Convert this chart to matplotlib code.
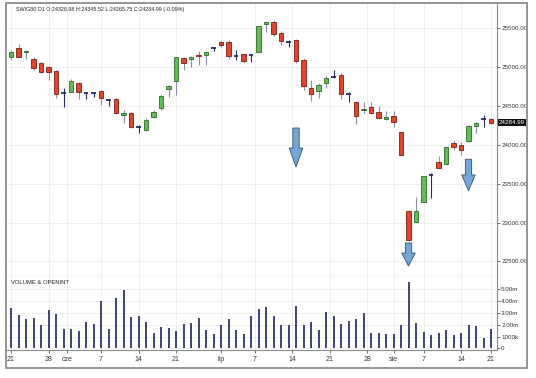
import matplotlib
matplotlib.use('Agg')
import matplotlib.pyplot as plt
from matplotlib.patches import Rectangle, Polygon
from matplotlib.transforms import blended_transform_factory
import numpy as np
import pandas as pd

FONT = ['Liberation Sans Narrow', 'Liberation Sans', 'DejaVu Sans']
plt.rcParams['font.family'] = FONT

# ---------------- data ----------------
holidays = ['2024-05-30', '2024-08-15']
dates = [d for d in pd.bdate_range('2024-05-21', '2024-08-21') if d.strftime('%Y-%m-%d') not in holidays]

opens = [25128, 25252, 25195, 25106, 25059, 25007, 24952, 24665, 24685, 24793,
         24672, 24672, 24694, 24575, 24591, 24385, 24407, 24225, 24192, 24360,
         24472, 24716, 24823, 25115, 25102, 25158, 25158, 25244, 25321, 25321,
         25149, 25171, 25158, 25200, 25553, 25576, 25437, 25329, 25351, 25093,
         24737, 24698, 24801, 24878, 24900, 24652, 24549, 24450, 24482, 24428,
         24334, 24373, 24170, 23154, 23012, 23270, 23607, 23781, 23751, 24019,
         23993, 24051, 24240, 24330, 24328.98]
highs = [25222, 25299, 25222, 25128, 25071, 25020, 24965, 24729, 24845, 24806,
         24685, 24678, 24707, 24579, 24608, 24450, 24428, 24263, 24343, 24450,
         24643, 24772, 25136, 25136, 25145, 25213, 25213, 25264, 25342, 25351,
         25222, 25180, 25167, 25535, 25599, 25608, 25467, 25351, 25364, 25115,
         24836, 24793, 24887, 24965, 24922, 24678, 24557, 24557, 24557, 24505,
         24437, 24441, 24180, 23163, 23334, 23605, 23633, 23854, 23985, 24070,
         24042, 24257, 24290, 24379, 24345.52]
lows = [25093, 25128, 25106, 24965, 24930, 24836, 24600, 24492, 24678, 24591,
        24588, 24613, 24514, 24501, 24398, 24279, 24222, 24150, 24173, 24343,
        24450, 24613, 24643, 24965, 25007, 25029, 25029, 25213, 25264, 25102,
        25093, 25051, 25064, 25195, 25458, 25406, 25286, 25264, 25051, 24707,
        24566, 24600, 24729, 24858, 24591, 24549, 24270, 24407, 24398, 24330,
        24321, 24235, 23858, 22764, 23005, 23262, 23313, 23700, 23740, 23935,
        23871, 24042, 24150, 24231, 24265.75]
closes = [25200, 25136, 25210, 24986, 24943, 24935, 24652, 24665, 24823, 24685,
          24672, 24672, 24600, 24575, 24407, 24415, 24237, 24225, 24321, 24428,
          24630, 24759, 25128, 25059, 25136, 25145, 25200, 25244, 25286, 25149,
          25149, 25084, 25158, 25531, 25578, 25425, 25342, 25329, 25084, 24763,
          24652, 24772, 24858, 24878, 24656, 24652, 24373, 24469, 24415, 24343,
          24364, 24299, 23871, 22777, 23150, 23600, 23607, 23707, 23977, 23977,
          23939, 24244, 24286, 24330, 24284.99]
volumes_m = [3.44, 2.82, 2.48, 2.57, 1.97, 3.27, 2.88, 1.64, 1.61, 1.47,
             2.20, 2.06, 3.98, 1.64, 4.24, 4.94, 2.63, 2.76, 2.20, 1.27,
             1.83, 1.69, 1.44, 2.06, 2.14, 2.59, 1.53, 1.21, 1.97, 2.46,
             1.53, 1.19, 2.74, 3.33, 3.53, 2.76, 1.97, 1.97, 3.58, 1.97,
             2.20, 1.53, 3.05, 2.74, 2.06, 2.34, 2.48, 3.02, 1.27, 1.27,
             1.19, 1.19, 1.97, 5.59, 2.17, 1.41, 1.13, 1.27, 1.53, 1.13,
             1.27, 1.97, 1.89, 0.85, 1.61]

tick_dates = ['2024-05-21', '2024-05-28', '2024-06-01', '2024-06-07', '2024-06-14',
              '2024-06-21', '2024-07-01', '2024-07-07', '2024-07-14', '2024-07-21',
              '2024-07-28', '2024-08-01', '2024-08-07', '2024-08-14', '2024-08-21']
tick_labels = ['21', '28', 'cze', '7', '14', '21', 'lip', '7', '14', '21', '28', 'sie', '7', '14', '21']

price_ticks = [22500, 23000, 23500, 24000, 24500, 25000, 25500]
vol_ticks = [0, 1, 2, 3, 4, 5]
vol_tick_labels = ['0', '1000k', '2.00m', '3.00m', '4.00m', '5.00m']

# signal arrows: (bar date, top price, head-start price, tip price)
arrow_dates = ['2024-07-15', '2024-08-05', '2024-08-16']
arrow_top = [24218, 22738, 23815]
arrow_head = [23961, 22609, 23613]
arrow_tip = [23716, 22442, 23411]

header = 'SWIG80 D1 O:24328.98 H:24345.52 L:24265.75 C:24284.99 (-0.09%)'

# ---------------- figure ----------------
W, H = 536, 378
fig = plt.figure(figsize=(W / 100, H / 100), dpi=100)
fig.patch.set_facecolor('white')

def px_axes(x0, y0, x1, y1):
    return fig.add_axes([x0 / W, 1 - y1 / H, (x1 - x0) / W, (y1 - y0) / H])

ax = px_axes(6, 3, 497, 276)
axv = px_axes(6, 276, 497, 350)

didx = pd.DatetimeIndex(dates)
xs = np.arange(len(dates))

def date_pos(s):
    t = pd.Timestamp(s)
    n = int(np.searchsorted(didx, t))
    if n < len(didx) and didx[n] == t:
        return float(n)
    return n - 0.5

tick_pos = [date_pos(s) for s in tick_dates]

GREEN, GREEN_E = '#63bb58', '#2c6a26'
RED, RED_E = '#e2442f', '#7c1d12'
NAVY = '#262b66'
WICK = '#8a90ab'
bw = 0.66

for i in xs:
    o, h, l, c = opens[i], highs[i], lows[i], closes[i]
    if o == c:
        ax.vlines(i, l, h, color=NAVY, lw=0.8, zorder=3)
        ax.hlines(o, i - bw / 2, i + bw / 2, color=NAVY, lw=1.3, zorder=4)
    else:
        fc, ec = (GREEN, GREEN_E) if c > o else (RED, RED_E)
        ax.vlines(i, l, h, color=WICK, lw=0.8, zorder=2)
        ax.add_patch(Rectangle((i - bw / 2, min(o, c)), bw, abs(c - o),
                               facecolor=fc, edgecolor=ec, lw=0.6, zorder=3))

# arrows
for d, t, hd, tp in zip(arrow_dates, arrow_top, arrow_head, arrow_tip):
    x = date_pos(d)
    sw, hw = 0.42, 0.9
    pts = [(x - sw, t), (x + sw, t), (x + sw, hd), (x + hw, hd), (x, tp),
           (x - hw, hd), (x - sw, hd)]
    ax.add_patch(Polygon(pts, closed=True, facecolor='#74a7d8', edgecolor='#2f4f73',
                         lw=0.6, zorder=5))

ax.set_xlim(-0.67, 64.8)
ax.set_ylim(22313, 25827)
ax.yaxis.tick_right()
ax.set_yticks(price_ticks)
ax.set_yticklabels([f'{p:.2f}' for p in price_ticks])
ax.tick_params(axis='y', direction='out', length=2, width=0.5, pad=1,
               labelsize=4.5, colors='#333333')
ax.set_xticks(tick_pos)
ax.tick_params(axis='x', length=0, labelbottom=False)
ax.grid(True, color='#ececec', lw=0.6, zorder=0)
for s in ['left', 'top']:
    ax.spines[s].set_visible(False)
ax.spines['right'].set_color('#8a8a8a')
ax.spines['right'].set_linewidth(0.8)
ax.spines['bottom'].set_color('#8a8a8a')
ax.spines['bottom'].set_linewidth(0.8)

ax.text(10 / 491, 1 - 6 / 273, header, transform=ax.transAxes, fontsize=3.9,
        va='center', ha='left', color='#222222', family=FONT)

# current price label
tr = blended_transform_factory(ax.transAxes, ax.transData)
ax.text(1.004, closes[-1], f'{closes[-1]:.2f}', transform=tr, fontsize=4.5,
        color='white', va='center', ha='left', family=FONT,
        bbox=dict(boxstyle='square,pad=0.15', facecolor='#111111', edgecolor='none'),
        zorder=6, clip_on=False)

# volume panel
axv.vlines(xs, 0, volumes_m, color='#30346c', lw=1.3, zorder=3)
axv.set_xlim(-0.67, 64.8)
axv.set_ylim(-0.14, 6.13)
axv.yaxis.tick_right()
axv.set_yticks(vol_ticks)
axv.set_yticklabels(vol_tick_labels)
axv.tick_params(axis='y', direction='out', length=2, width=0.5, pad=1,
                labelsize=4.5, colors='#333333')
axv.set_xticks(tick_pos)
axv.set_xticklabels(tick_labels)
axv.tick_params(axis='x', direction='out', length=2.5, width=0.5, pad=1.5,
                labelsize=5, colors='#333333')
axv.grid(True, color='#ececec', lw=0.6, zorder=0)
for s in ['left', 'top']:
    axv.spines[s].set_visible(False)
for s in ['right', 'bottom']:
    axv.spines[s].set_color('#8a8a8a')
    axv.spines[s].set_linewidth(0.8)
axv.text(5 / 491, 1 - 6 / 74, 'VOLUME & OPENINT', transform=axv.transAxes,
         fontsize=4.2, va='center', ha='left', color='#222222', family=FONT)

# outer frame
fig.add_artist(Rectangle((6 / W, 1 - 368 / H), (527 - 6) / W, (368 - 3) / H,
                         transform=fig.transFigure, fill=False,
                         edgecolor='#8c8c8c', lw=1.3))

fig.savefig('out.png', dpi=100, facecolor='white')
